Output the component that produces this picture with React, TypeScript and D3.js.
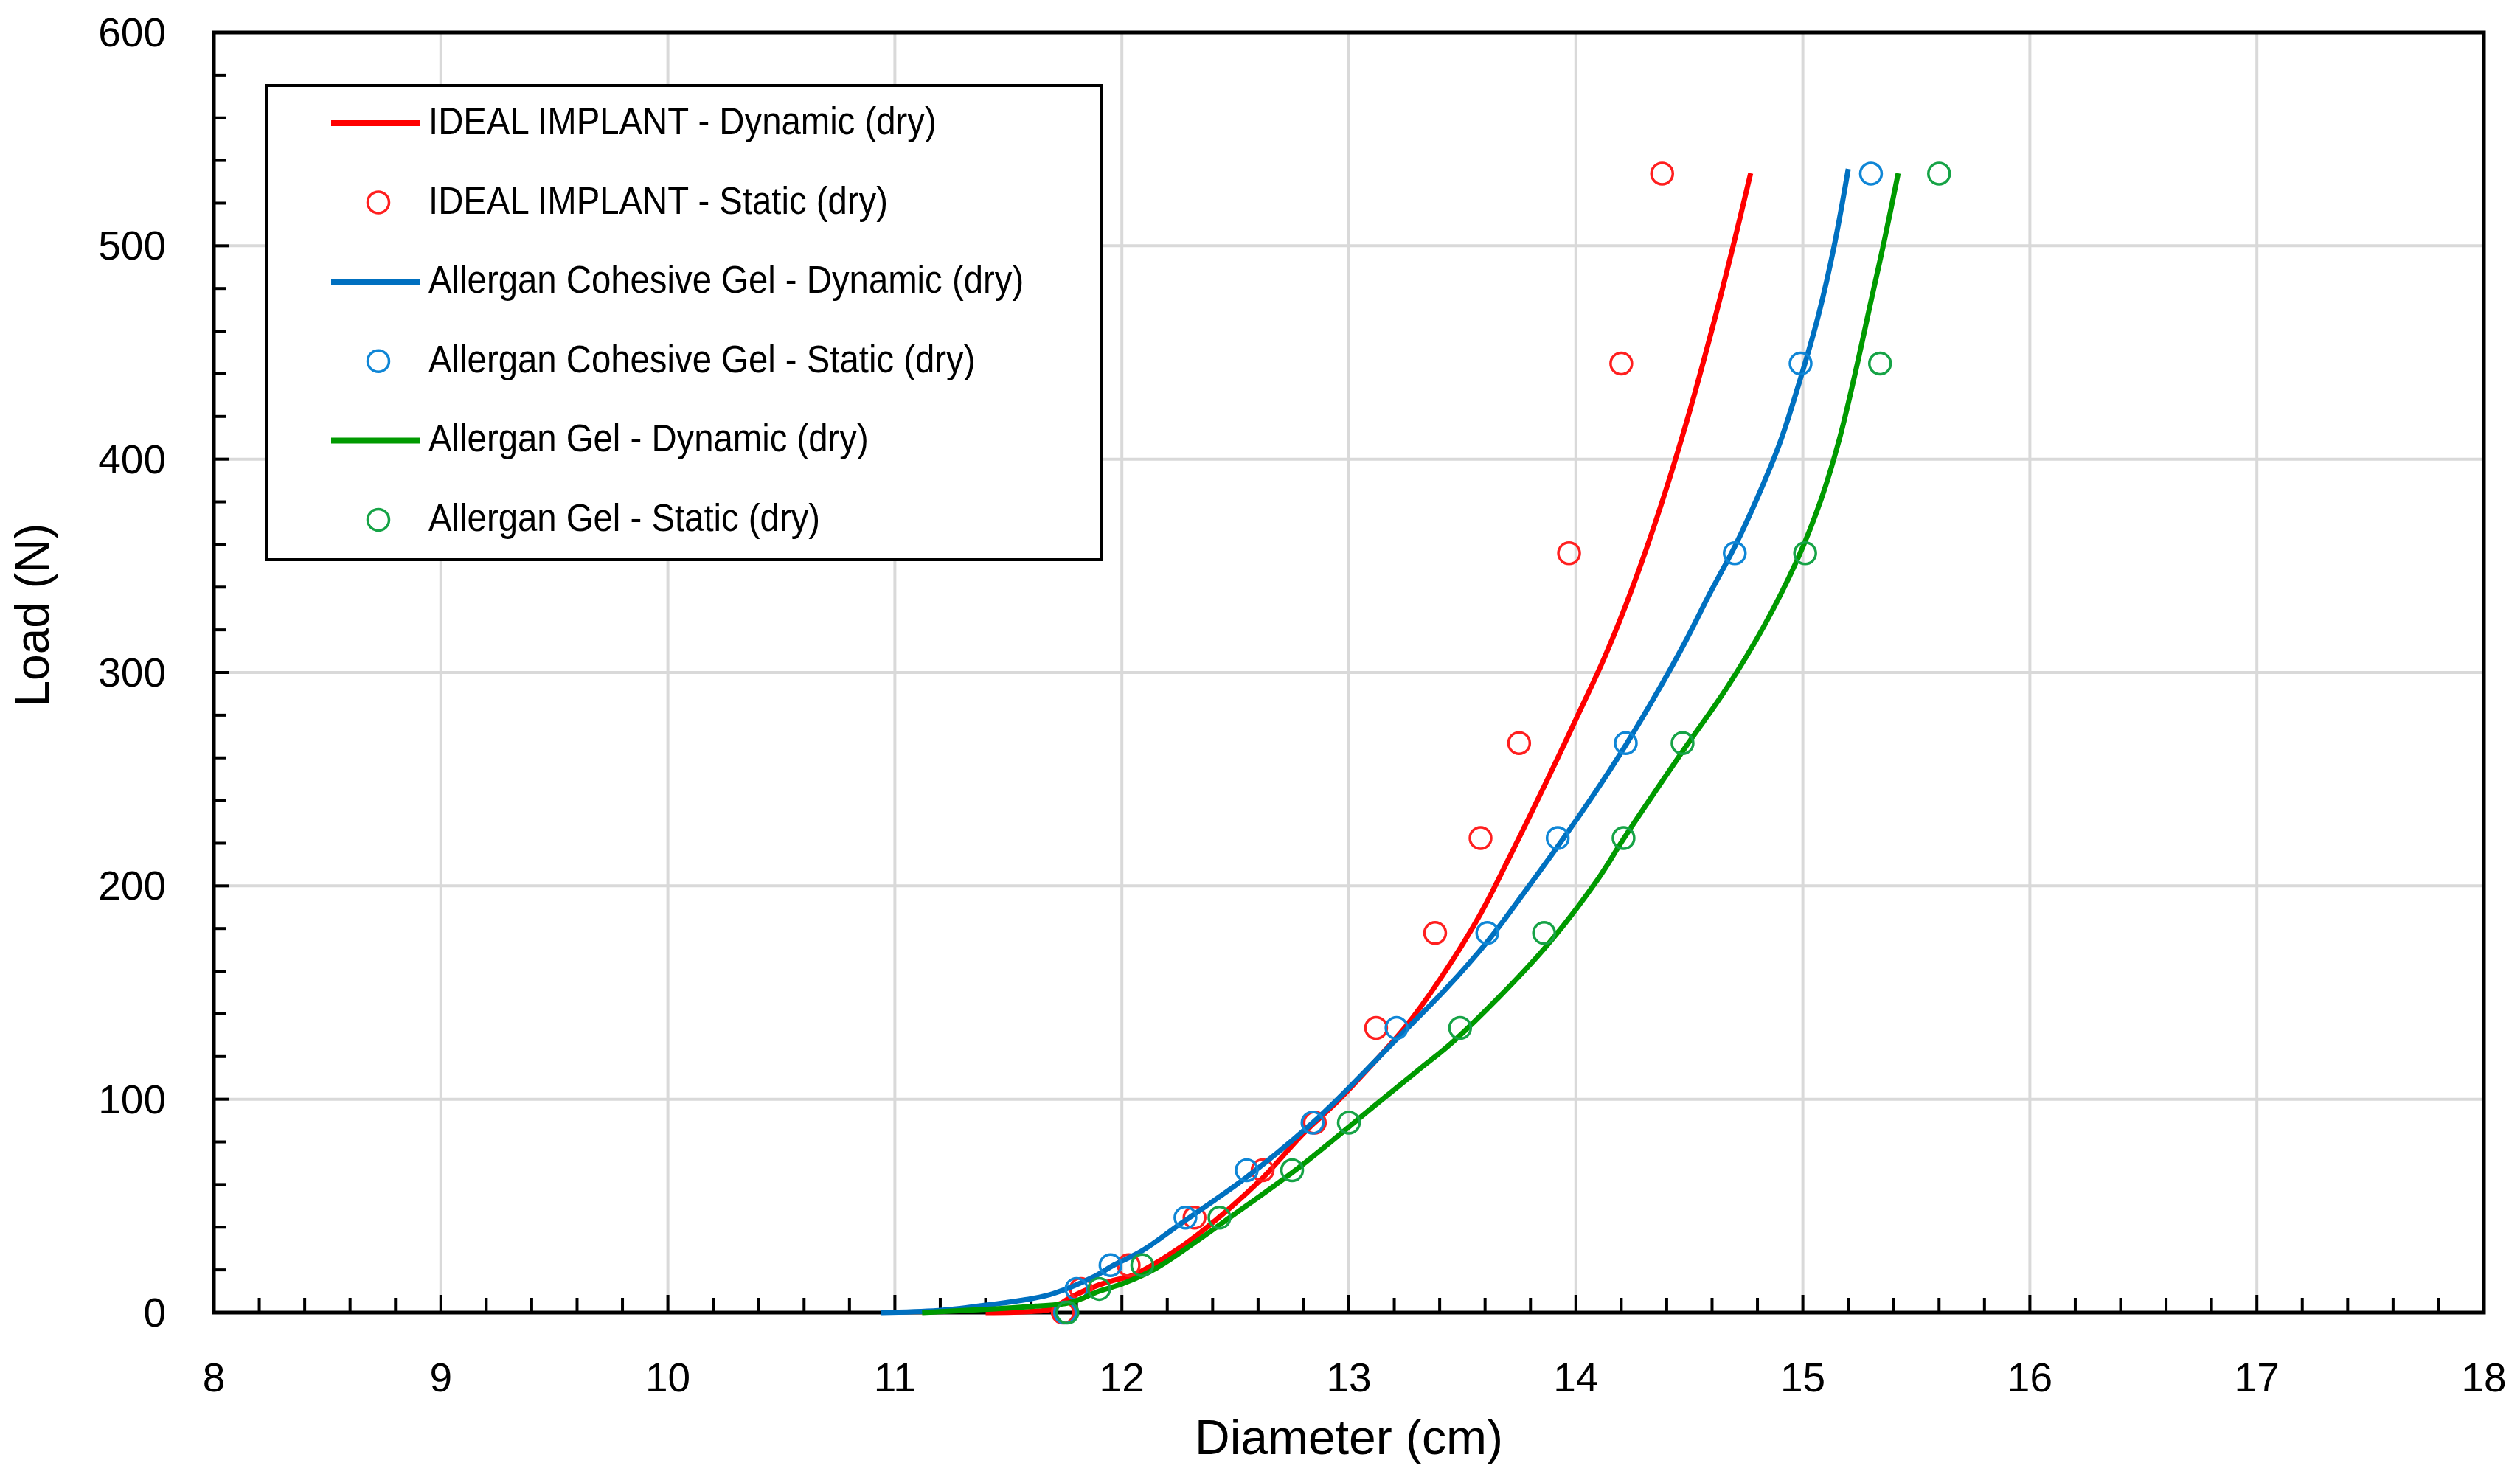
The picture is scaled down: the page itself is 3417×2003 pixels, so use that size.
import * as d3 from "d3";

// Loads shared by the static measurements (N)
const staticLoads = [0, 11.1, 22.2, 44.5, 66.7, 89.0, 133.4, 177.9, 222.4, 266.9, 355.9, 444.8, 533.8];

// Static diameters (cm) at each load
const idealStatic = [11.74, 11.82, 12.03, 12.32, 12.62, 12.85, 13.12, 13.38, 13.58, 13.75, 13.97, 14.2, 14.38];
const cohesiveStatic = [11.75, 11.8, 11.95, 12.28, 12.55, 12.84, 13.21, 13.61, 13.92, 14.22, 14.7, 14.99, 15.3];
const gelStatic = [11.76, 11.9, 12.09, 12.43, 12.75, 13.0, 13.49, 13.86, 14.21, 14.47, 15.01, 15.34, 15.6];

// Dynamic curves [diameter cm, load N]
const idealDynamic: [number, number][] = [
  [11.4, 0], [11.6, 0.5], [11.69, 1.7], [11.77, 6.9], [11.9, 13], [11.96, 15], [12.05, 17.5],
  [12.2, 26.5], [12.34, 37], [12.61, 62], [12.8, 84], [12.95, 99], [13.1, 116], [13.25, 134],
  [13.4, 156], [13.57, 185], [13.71, 214], [13.88, 251], [14.0, 278], [14.13, 308],
  [14.25, 340], [14.38, 380], [14.5, 422], [14.61, 465], [14.7, 503], [14.77, 534],
];
const cohesiveDynamic: [number, number][] = [
  [10.94, 0], [11.2, 1], [11.44, 4], [11.6, 6.5], [11.7, 9], [11.88, 17], [11.96, 22],
  [12.09, 29], [12.25, 41], [12.55, 63.5], [12.83, 88], [12.95, 100], [13.08, 114],
  [13.19, 126], [13.43, 152], [13.615, 174.5], [13.78, 198], [13.93, 220], [14.08, 243],
  [14.22, 266], [14.36, 291], [14.48, 314], [14.59, 337], [14.7, 359], [14.8, 382],
  [14.9, 408], [14.99, 438], [15.07, 468], [15.14, 501], [15.2, 536],
];
const gelDynamic: [number, number][] = [
  [11.12, 0], [11.44, 1.7], [11.62, 3], [11.77, 4.6], [11.9, 10], [12.01, 13.8], [12.15, 20.7],
  [12.31, 32], [12.45, 42.6], [12.78, 68], [13.11, 96.7], [13.31, 114], [13.47, 128],
  [13.86, 170.5], [14.1, 203.6], [14.21, 222], [14.47, 263], [14.66, 292], [14.83, 322],
  [14.98, 354], [15.08, 381], [15.16, 409], [15.23, 440], [15.3, 474], [15.36, 503], [15.42, 534],
];

const legendLabels = [
  "IDEAL IMPLANT - Dynamic (dry)",
  "IDEAL IMPLANT - Static (dry)",
  "Allergan Cohesive Gel - Dynamic (dry)",
  "Allergan Cohesive Gel - Static (dry)",
  "Allergan Gel - Dynamic (dry)",
  "Allergan Gel - Static (dry)",
];

const xTicks = [8, 9, 10, 11, 12, 13, 14, 15, 16, 17, 18];
const yTicks = [0, 100, 200, 300, 400, 500, 600];

const W = 3417;
const H = 2003;
const M = { left: 290, right: 3368, top: 44, bottom: 1780 };
const FONT = "'Liberation Sans', Arial, sans-serif";

const App = () => {
  const x = d3.scaleLinear().domain([8, 18]).range([M.left, M.right]);
  const y = d3.scaleLinear().domain([0, 600]).range([M.bottom, M.top]);
  const line = d3
    .line<[number, number]>()
    .x((d) => x(d[0]))
    .y((d) => y(d[1]))
    .curve(d3.curveCatmullRom.alpha(0.5));

  const series = [
    { dyn: idealDynamic, stat: idealStatic, line: "#FF0000", marker: "#FF1F1F" },
    { dyn: cohesiveDynamic, stat: cohesiveStatic, line: "#0070C0", marker: "#0F86D6" },
    { dyn: gelDynamic, stat: gelStatic, line: "#009A00", marker: "#16A346" },
  ];

  const xMinor = d3.range(0, 51).map((i) => 8 + i * 0.2);
  const yMinor = d3.range(0, 31).map((i) => i * 20);

  const legend = { x: 361, y: 116, w: 1132, h: 643, row0: 167, step: 107.6 };

  return (
    <svg
      width={W}
      height={H}
      viewBox={`0 0 ${W} ${H}`}
      style={{ position: "absolute", left: 0, top: 0, background: "#fff" }}
      fontFamily={FONT}
    >
      <rect x={0} y={0} width={W} height={H} fill="#fff" />

      {/* gridlines */}
      {xTicks.slice(1, -1).map((t) => (
        <line key={"gx" + t} x1={x(t)} x2={x(t)} y1={M.top} y2={M.bottom} stroke="#D9D9D9" strokeWidth={4} />
      ))}
      {yTicks.slice(1, -1).map((t) => (
        <line key={"gy" + t} x1={M.left} x2={M.right} y1={y(t)} y2={y(t)} stroke="#D9D9D9" strokeWidth={4} />
      ))}

      {/* ticks */}
      {xMinor.map((t, i) => (
        <line
          key={"xt" + i}
          x1={x(t)}
          x2={x(t)}
          y1={M.bottom}
          y2={M.bottom - (i % 5 === 0 ? 24 : 20)}
          stroke="#000"
          strokeWidth={4}
        />
      ))}
      {yMinor.map((t, i) => (
        <line
          key={"yt" + i}
          x1={M.left}
          x2={M.left + (i % 5 === 0 ? 20 : 16)}
          y1={y(t)}
          y2={y(t)}
          stroke="#000"
          strokeWidth={4}
        />
      ))}

      {/* frame */}
      <rect
        x={M.left}
        y={M.top}
        width={M.right - M.left}
        height={M.bottom - M.top}
        fill="none"
        stroke="#000"
        strokeWidth={5}
      />

      {/* tick labels */}
      {xTicks.map((t) => (
        <text key={"xl" + t} x={x(t)} y={1887} fontSize={55} textAnchor="middle" fill="#000">
          {t}
        </text>
      ))}
      {yTicks.map((t) => (
        <text key={"yl" + t} x={225} y={y(t) + 19} fontSize={55} textAnchor="end" fill="#000">
          {t}
        </text>
      ))}

      {/* axis titles */}
      <text x={(M.left + M.right) / 2} y={1972} fontSize={66} textAnchor="middle" fill="#000">
        Diameter (cm)
      </text>
      <text transform="translate(66,834) rotate(-90)" fontSize={64} textAnchor="middle" fill="#000">
        Load (N)
      </text>

      {/* series */}
      {series.map((s, si) => (
        <g key={"s" + si}>
          <path d={line(s.dyn) ?? ""} fill="none" stroke={s.line} strokeWidth={7} strokeLinejoin="round" />
          {s.stat.map((d, i) => (
            <circle
              key={i}
              cx={x(d)}
              cy={y(staticLoads[i])}
              r={14.5}
              fill="none"
              stroke={s.marker}
              strokeWidth={3.5}
            />
          ))}
        </g>
      ))}

      {/* legend */}
      <rect x={legend.x} y={legend.y} width={legend.w} height={legend.h} fill="#fff" stroke="#000" strokeWidth={4} />
      {legendLabels.map((label, i) => {
        const s = series[Math.floor(i / 2)];
        const cy = legend.row0 + i * legend.step;
        return (
          <g key={"lg" + i}>
            {i % 2 === 0 ? (
              <line x1={449} x2={570} y1={cy} y2={cy} stroke={s.line} strokeWidth={8} />
            ) : (
              <circle cx={513} cy={cy} r={14.5} fill="none" stroke={s.marker} strokeWidth={3.5} />
            )}
            <text transform={`translate(581,${cy + 15}) scale(0.91,1)`} fontSize={52} fill="#000">
              {label}
            </text>
          </g>
        );
      })}
    </svg>
  );
};

export default App;
